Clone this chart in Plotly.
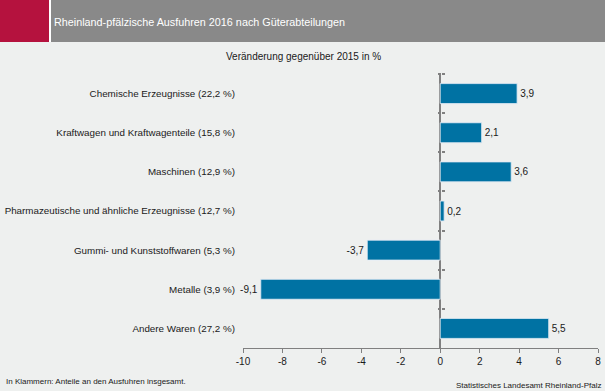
import plotly.graph_objects as go

categories = [
    "Chemische Erzeugnisse (22,2 %)",
    "Kraftwagen und Kraftwagenteile (15,8 %)",
    "Maschinen (12,9 %)",
    "Pharmazeutische und ähnliche Erzeugnisse (12,7 %)",
    "Gummi- und Kunststoffwaren (5,3 %)",
    "Metalle (3,9 %)",
    "Andere Waren (27,2 %)",
]
values = [3.9, 2.1, 3.6, 0.2, -3.7, -9.1, 5.5]
x_ticks = [-10, -8, -6, -4, -2, 0, 2, 4, 6, 8]
x_tick_labels = [str(v) for v in x_ticks]

W, H = 605, 391
BG = "#eef0ef"
BAR = "#0072a3"
AX = "#808080"
FONT = "Liberation Sans, Arial, sans-serif"

labels = [f"{v:.1f}".replace(".", ",") for v in values]

fig = go.Figure()
fig.add_trace(go.Bar(
    x=values, y=categories, orientation="h",
    marker=dict(color=BAR, line=dict(width=0)),
    width=0.51,
    text=labels, textposition="outside", cliponaxis=False,
    textfont=dict(size=10, color="#1a1a1a", family=FONT),
    hoverinfo="skip",
))
# invisible traces for the cross ticks on the zero line
for ya in ["y2", "y3"]:
    fig.add_trace(go.Bar(x=values, y=categories, orientation="h", yaxis=ya,
                         marker=dict(color="rgba(0,0,0,0)"), width=0.51,
                         hoverinfo="skip", showlegend=False))

x0, x1 = 243 / W, 598 / W
y0, y1 = 1 - 348 / H, 1 - 74 / H
zero_pos = 441 / W

fig.update_layout(
    width=W, height=H,
    paper_bgcolor=BG, plot_bgcolor=BG,
    margin=dict(l=0, r=0, t=0, b=0, pad=0),
    showlegend=False,
    bargap=0.49,
    font=dict(family=FONT, size=10, color="#1a1a1a"),
    xaxis=dict(domain=[x0, x1], range=[-10, 8], tickvals=x_ticks, ticktext=x_tick_labels,
               ticks="outside", ticklen=4, tickcolor=AX, tickwidth=1,
               showline=True, linecolor=AX, linewidth=1, showgrid=False,
               zeroline=True, zerolinecolor=AX, zerolinewidth=2, automargin=False,
               tickfont=dict(size=10, color="#1a1a1a"), anchor="y", fixedrange=True),
    yaxis=dict(domain=[y0, y1], autorange="reversed", showline=False, showgrid=False,
               ticks="", ticklabelstandoff=7, tickfont=dict(size=9.8, color="#1a1a1a"),
               automargin=False, fixedrange=True),
    yaxis2=dict(overlaying="y", matches="y", anchor="free", position=zero_pos, side="left",
                showticklabels=False, tickson="boundaries", ticks="outside", ticklen=3,
                tickwidth=2, tickcolor=AX, showline=False, showgrid=False, automargin=False),
    yaxis3=dict(overlaying="y", matches="y", anchor="free", position=zero_pos, side="right",
                showticklabels=False, tickson="boundaries", ticks="outside", ticklen=3,
                tickwidth=2, tickcolor=AX, showline=False, showgrid=False, automargin=False),
)

# header
fig.add_shape(type="rect", xref="paper", yref="paper", x0=0, x1=1, y0=1 - 42 / H, y1=1,
              fillcolor="#898989", line=dict(width=0), layer="below")
fig.add_shape(type="rect", xref="paper", yref="paper", x0=0, x1=49 / W, y0=1 - 42 / H, y1=1,
              fillcolor="#b5123e", line=dict(width=0), layer="below")
fig.add_shape(type="rect", xref="paper", yref="paper", x0=49 / W, x1=51 / W, y0=1 - 42 / H, y1=1,
              fillcolor="#ffffff", line=dict(width=0), layer="below")
fig.add_annotation(text="Rheinland-pfälzische Ausfuhren 2016 nach Güterabteilungen",
                   xref="paper", yref="paper", x=52 / W, y=1 - 22 / H, xanchor="left", yanchor="middle",
                   showarrow=False, font=dict(size=10.8, color="#ffffff", family=FONT))
fig.add_annotation(text="Veränderung gegenüber 2015 in %",
                   xref="paper", yref="paper", x=303 / W, y=1 - 57 / H, xanchor="center", yanchor="middle",
                   showarrow=False, font=dict(size=10, color="#1a1a1a", family=FONT))
fig.add_annotation(text="In Klammern: Anteile an den Ausfuhren insgesamt.",
                   xref="paper", yref="paper", x=4 / W, y=1 - 381 / H, xanchor="left", yanchor="middle",
                   showarrow=False, font=dict(size=8, color="#1a1a1a", family=FONT))
fig.add_annotation(text="Statistisches Landesamt Rheinland-Pfalz",
                   xref="paper", yref="paper", x=603 / W, y=1 - 385 / H, xanchor="right", yanchor="middle",
                   showarrow=False, font=dict(size=8, color="#1a1a1a", family=FONT))

fig.write_html("out.html", config={"displayModeBar": False},
               post_script="document.body.style.margin='0';document.body.style.overflow='hidden';")
